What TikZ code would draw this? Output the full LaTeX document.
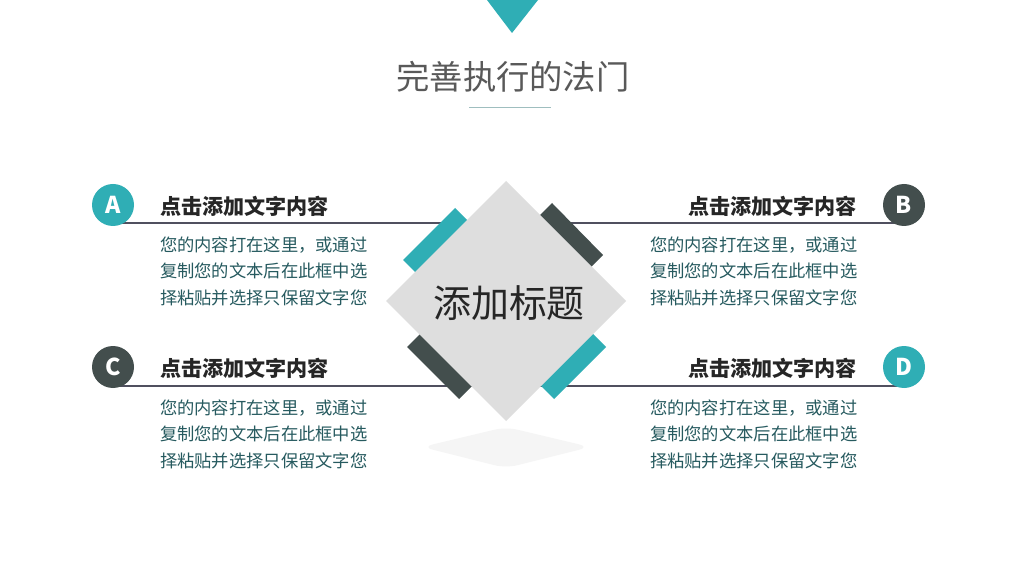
\documentclass[tikz,border=0pt]{standalone}
\usepackage{fontspec}
\usepackage{tikz}
\usetikzlibrary{shapes,positioning}
\newfontfamily\cjk{Noto Sans CJK SC}
\definecolor{teal}{RGB}{47, 174, 181}
\definecolor{slate}{RGB}{67, 78, 77}
\definecolor{tile}{RGB}{222, 222, 222}
\definecolor{rulegray}{RGB}{80, 80, 95}
\definecolor{bodyteal}{RGB}{38, 90, 95}
\definecolor{heading}{RGB}{38, 38, 38}

\begin{document}
\begin{tikzpicture}[x=0.025cm, y=-0.025cm,
  every node/.style={inner sep=0pt, outer sep=0pt},
  badge/.style={circle, minimum size=42*0.025cm, text=white, font=\cjk\bfseries\fontsize{16.5}{18}\selectfont},
  headtext/.style={text=heading, font=\cjk\bfseries\fontsize{15}{18}\selectfont},
  bodytext/.style={text=bodyteal, align=left, font=\cjk\fontsize{12.3}{18.8}\selectfont},
  rule/.style={rulegray, line width=0.8pt}]
\useasboundingbox[fill=white] (0,0) rectangle (1024,576);

% Title
\fill[teal] (487,0) -- (538,0) -- (512,33) -- cycle;
\node[text=black!65, font=\cjk\fontsize{23.7}{28}\selectfont] (title) at (513,77) {完善执行的法门};
\draw[teal!40!gray!60, line width=0.6pt] (469,107) -- (551,107);

% Header lines
\coordinate (lA) at (113,223);
\coordinate (lB) at (904,223);
\coordinate (lC) at (113,386);
\coordinate (lD) at (904,386);
\draw[rule] (lA) -- (lB);
\draw[rule] (lC) -- (lD);

% Bars behind the diamond
\fill[teal] (403,260) -- (455,208) -- (470,223) -- (418,275) -- cycle;
\fill[slate] (552,203) -- (603,255) -- (589,269) -- (538,217) -- cycle;
\fill[slate] (407,347) -- (459,399) -- (473,385) -- (421,333) -- cycle;
\fill[teal] (606,347) -- (554,399) -- (540,385) -- (592,333) -- cycle;

% Shadow and diamond
\fill[black!4, rounded corners=8] (422,447) -- (506,427) -- (590,447) -- (506,468) -- cycle;
\fill[tile] (506,181) -- (626,301) -- (506,421) -- (386,301) -- cycle;
\node[text=heading, font=\cjk\fontsize{27}{30}\selectfont] (center) at (509,303) {添加标题};

% Badges
\node[badge, fill=teal] (A) at (113,205) {A};
\node[badge, fill=slate] (B) at (904,205) {B};
\node[badge, fill=slate] (C) at (113,367) {C};
\node[badge, fill=teal] (D) at (904,367) {D};

% Left column
\node[headtext, anchor=west] (headA) at (160,206) {点击添加文字内容};
\node[bodytext, anchor=west] (bodyA) at (160,271) {您的内容打在这里，或通过\\复制您的文本后在此框中选\\择粘贴并选择只保留文字您};
\node[headtext, anchor=west] (headC) at (160,368) {点击添加文字内容};
\node[bodytext, anchor=west] (bodyC) at (160,434) {您的内容打在这里，或通过\\复制您的文本后在此框中选\\择粘贴并选择只保留文字您};

% Right column
\node[headtext, anchor=east] (headB) at (857,206) {点击添加文字内容};
\node[bodytext, anchor=west] (bodyB) at (650,271) {您的内容打在这里，或通过\\复制您的文本后在此框中选\\择粘贴并选择只保留文字您};
\node[headtext, anchor=east] (headD) at (857,368) {点击添加文字内容};
\node[bodytext, anchor=west] (bodyD) at (650,434) {您的内容打在这里，或通过\\复制您的文本后在此框中选\\择粘贴并选择只保留文字您};
\end{tikzpicture}
\end{document}
